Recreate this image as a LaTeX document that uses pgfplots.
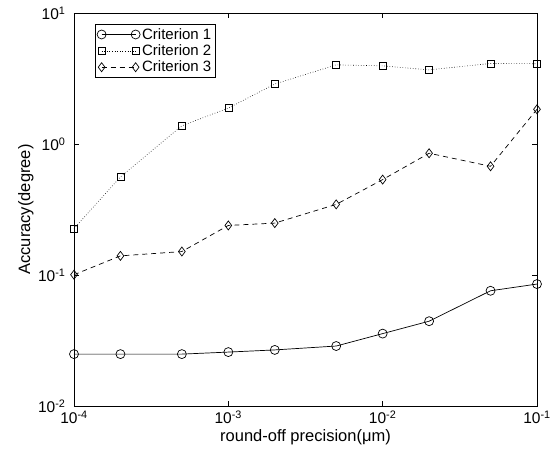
\documentclass[border=0pt]{standalone}
\usepackage{pgfplots}
\pgfplotsset{compat=1.18}
\usepackage{fontspec}
\setmainfont{Liberation Sans}

\begin{document}
\begin{tikzpicture}
\useasboundingbox (-74pt,-50pt) rectangle (480pt,406pt);
\begin{axis}[
  scale only axis,
  width=463pt, height=393pt,
  xmode=log, ymode=log,
  log basis x=10, log basis y=10,
  xmin=1e-4, xmax=1e-1,
  ymin=1e-2, ymax=1e1,
  tick align=inside,
  major tick length=5pt, minor tick length=3pt,
  xtick={1e-4,1e-3,1e-2,1e-1},
  ytick={1e-2,1e-1,1e0,1e1},
  xticklabel={10\textsuperscript{\pgfmathprintnumber[fixed,precision=0,assume math mode=true]{\tick}}},
  yticklabel={10\textsuperscript{\pgfmathprintnumber[fixed,precision=0,assume math mode=true]{\tick}}},
  tick label style={font=\fontsize{15.5}{17}\selectfont},
  xticklabel style={yshift=-1pt},
  yticklabel style={xshift=-5pt},
  xlabel={round-off precision(μm)},
  ylabel={Accuracy(degree)},
  label style={font=\fontsize{16.5}{19}\selectfont},
  xlabel style={at={(axis description cs:0.5,-0.08)}, anchor=center},
  ylabel style={at={(axis description cs:-0.104,0.5)}, anchor=center},
  axis line style={line width=0.7pt},
  every tick/.style={black, line width=0.5pt},
  legend cell align=left,
  legend style={at={(axis description cs:0.045,0.972)}, anchor=north west, draw=black, line width=0.6pt,
    font=\fontsize{15}{17}\selectfont, row sep=0pt, inner sep=2pt},
  legend image code/.code={\draw[#1] plot coordinates {(0pt,0pt) (34pt,0pt)};},
]
\addplot[black, line width=0.7pt, mark=o, mark size=4.5pt, mark options={solid}] coordinates {
  (1e-4,0.0249) (2e-4,0.0249) (5e-4,0.0249) (1e-3,0.0258) (2e-3,0.0268)
  (5e-3,0.0287) (1e-2,0.0357) (2e-2,0.0444) (5e-2,0.0758) (1e-1,0.0853)};
\addlegendentry{Criterion 1}
\addplot[black, line width=0.6pt, dotted, mark=square, mark size=3.5pt, mark options={solid}] coordinates {
  (1e-4,0.226) (2e-4,0.561) (5e-4,1.378) (1e-3,1.88) (2e-3,2.87)
  (5e-3,4.02) (1e-2,3.95) (2e-2,3.68) (5e-2,4.12) (1e-1,4.1)};
\addlegendentry{Criterion 2}
\addplot[black, line width=0.7pt, dash pattern=on 5pt off 4pt, mark=diamond, mark size=4.5pt, mark options={solid}] coordinates {
  (1e-4,0.1005) (2e-4,0.14) (5e-4,0.151) (1e-3,0.239) (2e-3,0.249)
  (5e-3,0.346) (1e-2,0.535) (2e-2,0.85) (5e-2,0.676) (1e-1,1.84)};
\addlegendentry{Criterion 3}
\end{axis}
\end{tikzpicture}
\end{document}
